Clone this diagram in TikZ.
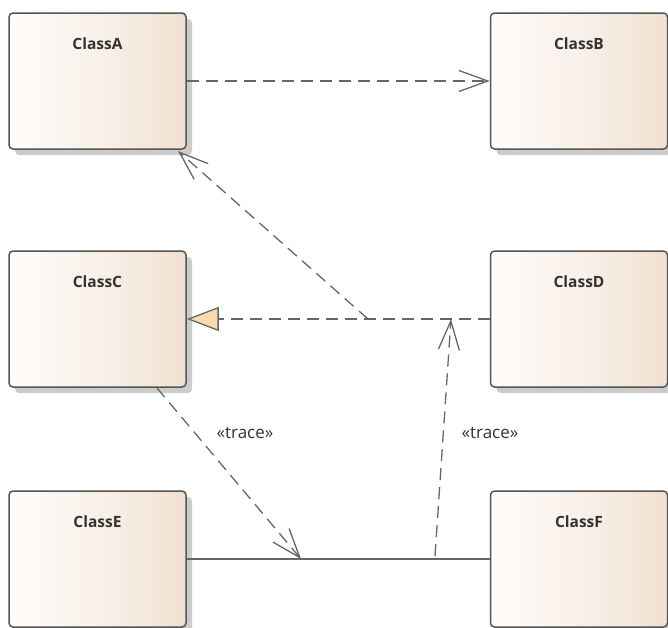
\documentclass[tikz,border=0pt]{standalone}
\usepackage{fontspec}
\setmainfont{Open Sans}
\usetikzlibrary{arrows.meta,shadows,calc}
\definecolor{boxline}{HTML}{555555}
\definecolor{conn}{HTML}{666666}
\definecolor{gradL}{HTML}{FEFCFA}
\definecolor{gradR}{HTML}{F1E0D1}
\definecolor{shadowgray}{HTML}{CCCCCC}
\definecolor{trifill}{HTML}{F8DCAE}
\definecolor{txt}{HTML}{333333}
\tikzset{
  classbox/.style={draw=boxline, line width=1.5pt, rounded corners=4pt,
    left color=gradL, right color=gradR, middle color=gradL!60!gradR,
    minimum width=177pt, inner xsep=0pt, inner ysep=2pt,
    text height=34pt, text depth=98pt,
    font=\bfseries\fontsize{15.5}{18}\selectfont, text=txt,
    general shadow={shadow xshift=6pt, shadow yshift=-6pt, fill=shadowgray}},
  conline/.style={draw=conn, line width=1.3pt},
  dep/.style={conline, dash pattern=on 12pt off 7pt,
    -{Straight Barb[length=29pt,width=21pt,line width=1.3pt]}},
  real/.style={conline, dash pattern=on 12pt off 7pt,
    -{Triangle[length=32pt,width=24pt,line width=1.3pt,fill=trifill]}},
  lbl/.style={font=\fontsize{17}{20}\selectfont, text=txt, inner sep=0pt}
}
\begin{document}
\begin{tikzpicture}[x=1pt,y=-1pt]
\useasboundingbox (0,0) rectangle (668,627);
\node[classbox] (A) at (97.5,81) {ClassA};
\node[classbox] (B) at (579,81) {ClassB};
\node[classbox] (C) at (97.5,319) {ClassC};
\node[classbox] (D) at (579,319) {ClassD};
\node[classbox] (E) at (97.5,559) {ClassE};
\node[classbox] (F) at (579,559) {ClassF};
\coordinate (J) at (368,319);
\coordinate (Atip) at (178,151);
\coordinate (Cs) at (157,388);
\coordinate (EF1) at (301,559);
\coordinate (EF2) at (435,556);
\coordinate (J2) at (451,319);
% A -> B
\draw[dep] (A.east) -- (B.west);
% D -> C realization
\draw[real] (D.west) -- (C.east);
% junction -> A
\draw[dep] (J) -- (Atip);
% E -- F
\draw[conline] (E.east) -- (F.west);
% trace C -> E-F link
\draw[dep] (Cs) -- (EF1);
\node[lbl] (t1) at (245,433) {«trace»};
% trace E-F link -> D-C link
\draw[dep] (EF2) -- (J2);
\node[lbl] (t2) at (490,433) {«trace»};
\end{tikzpicture}
\end{document}
